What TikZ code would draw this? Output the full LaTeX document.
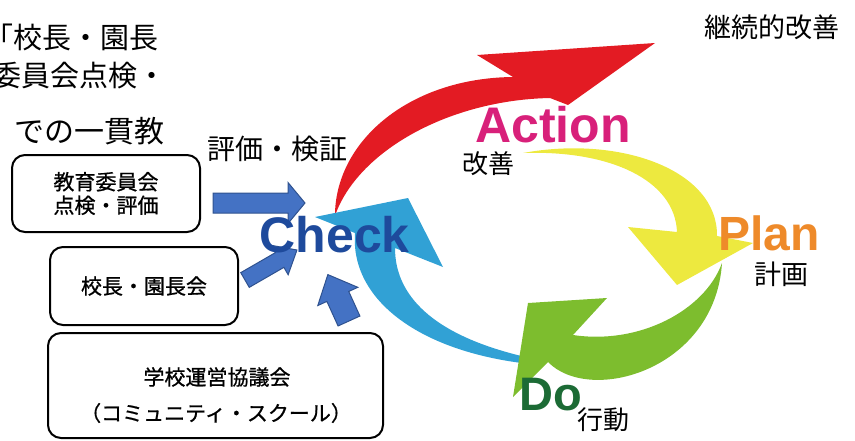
\documentclass[tikz,border=0pt]{standalone}
\usepackage{fontspec}
\setmainfont{Liberation Sans}
\newfontfamily\jp{Noto Sans CJK JP}
\newfontfamily\jpb{Noto Sans CJK JP}[FakeBold=0.8]
\definecolor{cred}{HTML}{E31B23}
\definecolor{cyellow}{HTML}{EDE93F}
\definecolor{cgreen}{HTML}{7DBD2E}
\definecolor{cblue}{HTML}{31A1D5}
\definecolor{cmag}{HTML}{D8207A}
\definecolor{corange}{HTML}{EE8A2A}
\definecolor{cdo}{HTML}{1C6B35}
\definecolor{cchk}{HTML}{1E4A9C}
\definecolor{barrow}{HTML}{4472C4}
\definecolor{barrowline}{HTML}{2F528F}
\newcommand\blkarrow[7]{%
  \begin{scope}[shift={(#1,#2)},rotate=#3]
    \draw[blockarrow] (0,-#6) -- (#4-#5,-#6) -- (#4-#5,-#7) -- (#4,0) -- (#4-#5,#7) -- (#4-#5,#6) -- (0,#6) -- cycle;
  \end{scope}}
\begin{document}
\begin{tikzpicture}[x=1pt,y=-1pt,
  box/.style={draw=black, line width=2pt, rounded corners=13pt, fill=white, inner sep=0pt, align=center, font=\jpb\fontsize{21}{23.5}\selectfont},
  blockarrow/.style={fill=barrow, draw=barrowline, line width=1pt},
  big/.style={font=\bfseries\fontsize{#1}{#1}\selectfont, inner sep=0pt, anchor=base west},
  jtext/.style={font=\jp\fontsize{#1}{#1}\selectfont, inner sep=0pt},
  jbtext/.style={font=\jpb\fontsize{#1}{#1}\selectfont, inner sep=0pt}]
\useasboundingbox (0,0) rectangle (855,440);
\clip (0,0) rectangle (855,440);
% cycle arrows
\fill[cred] (335,213) .. controls (337,140) and (410,78) .. (513,77) -- (477,55) -- (655,43) -- (568,105) -- (550,98) .. controls (450,100) and (360,150) .. (336,213) -- cycle;
\fill[cblue] (530,364) .. controls (420,352) and (350,300) .. (355,233) -- (315,217) -- (408,198) -- (443,267) -- (395,248) .. controls (395,300) and (440,338) .. (530,358) -- cycle;
\fill[cyellow] (523,153) .. controls (620,135) and (718,170) .. (717,236) -- (753,243) -- (677,285) -- (628,227) -- (677,232) .. controls (675,180) and (610,150) .. (523,153) -- cycle;
\fill[cgreen] (722,263) .. controls (705,310) and (640,345) .. (573,335) -- (607,298) -- (528,303) -- (513,397) -- (548,362) .. controls (590,405) and (715,370) .. (722,263) -- cycle;
% block arrows
\blkarrow{213}{203}{0}{92}{17}{10}{20.5}
\blkarrow{245}{280}{30}{60}{20}{8.5}{17}
\blkarrow{349}{321}{114.5}{51}{24}{12}{22}
% boxes
\node[box, minimum width=188pt, minimum height=77pt] (b1) at (106,193.5) {教育委員会\\点検・評価};
\node[box, minimum width=188pt, minimum height=78pt] (b2) at (144,286) {校長・園長会};
\node[box, minimum width=335pt, minimum height=105pt] (b3) at (215.5,385.5) {};
\node[jbtext=21] (t3a) at (217,377) {学校運営協議会};
\node[jbtext=21] (t3b) at (216,413) {（コミュニティ・スクール）};
% big words
\node[big=50, text=cmag] (action) at (475,142) {Action};
\node[big=50, text=cchk] (check) at (259.5,252) {Check};
\node[big=48, text=corange] (plan) at (718,250) {Plan};
\node[big=47, text=cdo] (do) at (519,410) {Do};
% Japanese labels
\node[jtext=28] (hyoka) at (277,149) {評価・検証};
\node[jtext=27] (keizoku) at (772,27) {継続的改善};
\node[jtext=26] (kaizen) at (488,164) {改善};
\node[jtext=27] (keikaku) at (781,274) {計画};
\node[jtext=26] (kodo) at (603,420) {行動};
% top-left paragraph fragment
\node[jtext=29, anchor=east] (p1) at (159,37) {「校長・園長};
\node[jtext=29, anchor=east] (p2) at (166.5,76) {委員会点検・};
\node[jtext=30, anchor=east] (p3) at (165,131) {での一貫教};
\end{tikzpicture}
\end{document}
